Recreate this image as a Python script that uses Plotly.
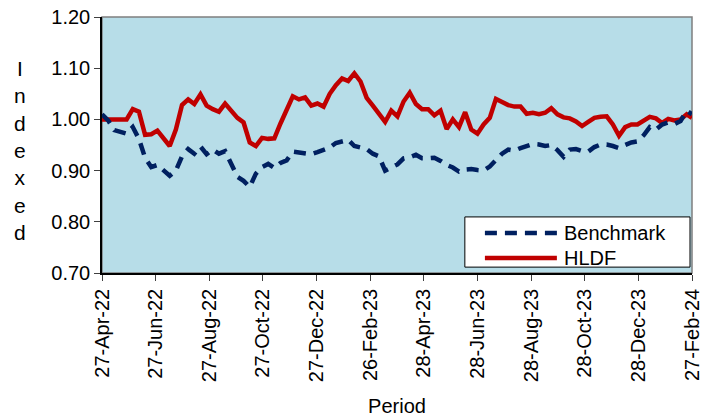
import pandas as pd
import plotly.graph_objects as go

# Weekly sample dates (27-Apr-22 .. 21-Feb-24) plus the final date 27-Feb-24
dates = list(pd.date_range("2022-04-27", periods=96, freq="7D").strftime("%Y-%m-%d")) + ["2024-02-27"]

hldf = [
    1.000, 1.000, 1.000, 1.000, 1.000, 1.020, 1.015, 0.970, 0.971, 0.978,
    0.962, 0.948, 0.980, 1.028, 1.039, 1.030, 1.049, 1.027, 1.020, 1.015,
    1.031, 1.016, 1.003, 0.994, 0.955, 0.948, 0.964, 0.962, 0.963, 0.992,
    1.020, 1.045, 1.039, 1.043, 1.027, 1.031, 1.025, 1.050, 1.067, 1.080,
    1.075, 1.090, 1.074, 1.042, 1.027, 1.010, 0.995, 1.017, 1.006, 1.035,
    1.052, 1.030, 1.020, 1.020, 1.008, 1.017, 0.981, 1.000, 0.985, 1.014,
    0.980, 0.972, 0.990, 1.003, 1.040, 1.034, 1.028, 1.025, 1.025, 1.011,
    1.013, 1.010, 1.013, 1.022, 1.010, 1.004, 1.002, 0.996, 0.987, 0.995,
    1.003, 1.005, 1.006, 0.990, 0.968, 0.985, 0.990, 0.990, 0.998, 1.005,
    1.002, 0.993, 1.001, 0.998, 1.000, 1.010, 1.003,
]

benchmark = [
    1.010, 0.998, 0.979, 0.975, 0.972, 0.985, 0.962, 0.925, 0.907, 0.911,
    0.900, 0.890, 0.900, 0.928, 0.942, 0.933, 0.947, 0.932, 0.941, 0.933,
    0.938, 0.914, 0.888, 0.880, 0.868, 0.894, 0.907, 0.913, 0.905, 0.915,
    0.920, 0.937, 0.935, 0.933, 0.932, 0.936, 0.940, 0.945, 0.954, 0.958,
    0.960, 0.948, 0.945, 0.942, 0.933, 0.928, 0.900, 0.905, 0.912, 0.924,
    0.926, 0.931, 0.924, 0.924, 0.925, 0.919, 0.911, 0.906, 0.898, 0.902,
    0.903, 0.901, 0.900, 0.908, 0.921, 0.933, 0.941, 0.939, 0.944, 0.947,
    0.952, 0.951, 0.948, 0.950, 0.940, 0.927, 0.941, 0.942, 0.938, 0.937,
    0.946, 0.951, 0.951, 0.948, 0.944, 0.950, 0.955, 0.957, 0.969, 0.985,
    0.980, 0.990, 0.994, 0.991, 0.997, 1.017, 1.010,
]

tick_dates = ["2022-04-27", "2022-06-27", "2022-08-27", "2022-10-27", "2022-12-27",
              "2023-02-26", "2023-04-28", "2023-06-28", "2023-08-28", "2023-10-28",
              "2023-12-28", "2024-02-27"]
tick_labels = ["27-Apr-22", "27-Jun-22", "27-Aug-22", "27-Oct-22", "27-Dec-22",
               "26-Feb-23", "28-Apr-23", "28-Jun-23", "28-Aug-23", "28-Oct-23",
               "28-Dec-23", "27-Feb-24"]
y_ticks = [0.70, 0.80, 0.90, 1.00, 1.10, 1.20]

series_names = ["Benchmark", "HLDF"]
series_colors = ["#002060", "#C00000"]
series_dash = ["12px,8px", "solid"]

FONT = "Liberation Sans, Arial, sans-serif"

fig = go.Figure()
fig.add_trace(go.Scatter(
    x=dates, y=hldf, mode="lines", name=series_names[1], showlegend=False,
    line=dict(color=series_colors[1], width=4.5),
))
fig.add_trace(go.Scatter(
    x=dates, y=benchmark, mode="lines", name=series_names[0], showlegend=False,
    line=dict(color=series_colors[0], width=4.5, dash=series_dash[0]),
))

# Legend box drawn in paper coordinates (Excel-style legend)
shapes = [
    dict(type="rect", xref="paper", yref="paper", x0=0, x1=1, y0=0, y1=1,
         line=dict(color="#7F7F7F", width=1.5), layer="below"),
    dict(type="rect", xref="paper", yref="paper", x0=0.615, x1=0.9966, y0=0.023, y1=0.219,
         line=dict(color="black", width=1), fillcolor="white", layer="above"),
]
legend_rows = [0.156, 0.059]
annotations = []
for name, color, dash, yy in zip(series_names, series_colors, series_dash, legend_rows):
    shapes.append(dict(type="line", xref="paper", yref="paper", x0=0.649, x1=0.771, y0=yy, y1=yy,
                       line=dict(color=color, width=4.5, dash=dash), layer="above"))
    annotations.append(dict(text=name, xref="paper", yref="paper", x=0.779, y=yy,
                            xanchor="left", yanchor="middle", showarrow=False,
                            font=dict(size=20, family=FONT, color="black")))

annotations.append(dict(
    text="I<br>n<br>d<br>e<br>x<br>e<br>d", xref="paper", yref="paper",
    x=-0.139, y=0.48, xanchor="center", yanchor="middle", showarrow=False,
    font=dict(size=21, family=FONT), align="center",
))

fig.update_layout(
    width=708, height=418,
    margin=dict(l=102, r=16, t=17, b=145),
    paper_bgcolor="white",
    plot_bgcolor="#B7DDE8",
    font=dict(family=FONT, size=20, color="black"),
    showlegend=False,
    shapes=shapes,
    annotations=annotations,
)
fig.update_xaxes(
    range=["2022-04-27", "2024-02-27"], automargin=False,
    tickmode="array", tickvals=tick_dates, ticktext=tick_labels,
    tickangle=-90, ticks="outside", ticklen=6, tickcolor="#404040",
    showline=True, linecolor="black", linewidth=1.5,
    showgrid=False, zeroline=False,
    title=dict(text="Period", font=dict(size=20), standoff=18),
    tickfont=dict(size=20),
)
fig.update_yaxes(
    range=[0.70, 1.20], automargin=False, tickmode="array", tickvals=y_ticks, tickformat=".2f",
    ticks="outside", ticklen=6, tickcolor="#404040",
    showline=True, linecolor="black", linewidth=1.5,
    showgrid=False, zeroline=False,
    tickfont=dict(size=20),
)

fig.write_html("out.html", config={"displayModeBar": False},
               post_script="document.body.style.margin='0';")
